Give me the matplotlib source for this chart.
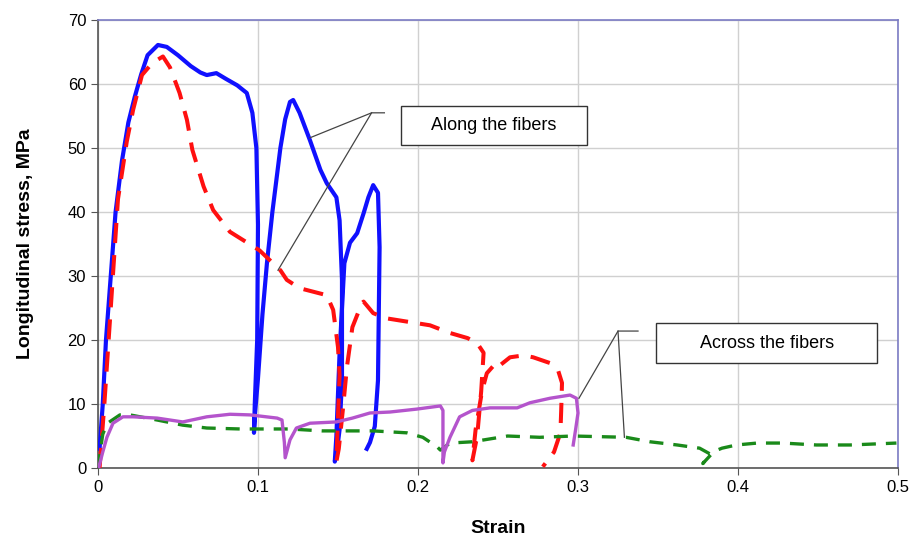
import matplotlib
matplotlib.use('Agg')
import matplotlib.pyplot as plt
from matplotlib.patches import Rectangle

plt.rcParams['font.family'] = ['Liberation Sans', 'DejaVu Sans']

# along the fibers, sample 1 (blue)
along1_x = [0.001, 0.003, 0.005, 0.008, 0.011, 0.015, 0.019, 0.023, 0.027, 0.031, 0.0375, 0.043,
            0.05, 0.058, 0.064, 0.068, 0.074, 0.08, 0.087, 0.093, 0.0965, 0.099, 0.1, 0.0995, 0.098,
            0.0975, 0.098, 0.1, 0.1028, 0.1056, 0.109, 0.114, 0.117, 0.12, 0.122, 0.126, 0.1325,
            0.139, 0.143, 0.149, 0.151, 0.1525, 0.1525, 0.151, 0.149, 0.148, 0.149, 0.151, 0.154,
            0.1575, 0.162, 0.166, 0.169, 0.172, 0.175, 0.176, 0.1755, 0.175, 0.173, 0.17, 0.168]
along1_y = [3, 10, 20, 30, 40, 48, 54, 58, 61.5, 64.5, 66.1, 65.8,
            64.5, 62.8, 61.8, 61.4, 61.7, 60.8, 59.8, 58.6, 55.5, 50, 38, 20, 10,
            5.5, 8, 14, 24, 32, 40, 50, 54.5, 57.2, 57.5, 55.5, 51.2,
            46.6, 44.5, 42.3, 38.7, 29.4, 13.7, 6, 2, 1, 5, 18, 32,
            35.2, 36.7, 39.8, 42.3, 44.2, 43, 34.5, 24.2, 13.7, 6.5, 4, 3]

# along the fibers, sample 2 (red dashed)
along2_x = [0.001, 0.004, 0.008, 0.0125, 0.018, 0.022, 0.0275, 0.034, 0.0406, 0.045, 0.051,
            0.0556, 0.059, 0.066, 0.072, 0.0825, 0.101, 0.114, 0.118, 0.126, 0.143, 0.147, 0.15,
            0.151, 0.15, 0.149, 0.1505, 0.153, 0.1556, 0.159, 0.165, 0.166, 0.172, 0.18, 0.195,
            0.2075, 0.22, 0.231, 0.237, 0.241, 0.2395, 0.237, 0.234, 0.236, 0.24, 0.243, 0.249,
            0.251, 0.2575, 0.266, 0.272, 0.2825, 0.2875, 0.29, 0.2895, 0.289, 0.285, 0.278]
along2_y = [0, 10, 25, 42, 51, 56, 61.4, 63.3, 64.3, 62.6, 58.6,
            54.4, 49.7, 44, 40.3, 36.9, 34, 30.9, 29.4, 28.1, 27, 24.7, 18.9,
            14.5, 8, 1, 3, 9, 15.8, 22, 25.8, 26, 24.2, 23.4, 22.8,
            22.3, 21.1, 20.3, 19.5, 18, 12, 5, 1.2, 6, 12, 14.8, 16.5,
            16, 17.3, 17.6, 17.3, 16.4, 15.3, 13.3, 9, 5.5, 2.5, 0.2]

# across the fibers, sample 1 (purple)
across1_x = [0.0006, 0.003, 0.0056, 0.0094, 0.0156, 0.022, 0.037, 0.053, 0.068, 0.0825, 0.095,
             0.112, 0.115, 0.1165, 0.117, 0.12, 0.124, 0.1325, 0.149, 0.159, 0.17, 0.1825, 0.199,
             0.214, 0.2156, 0.2156, 0.2165, 0.22, 0.226, 0.234, 0.245, 0.262, 0.27, 0.2825, 0.295,
             0.299, 0.3, 0.2985, 0.297]
across1_y = [0.2, 2.5, 4.8, 7, 8, 8, 7.8, 7.2, 8, 8.4, 8.3,
             7.8, 7.5, 4, 1.6, 4.4, 6.25, 7, 7.2, 7.8, 8.6, 8.75, 9.2,
             9.7, 9, 0.8, 2.5, 4.8, 8, 9, 9.4, 9.4, 10.2, 10.9, 11.4,
             10.9, 8.6, 6, 3.6]

# across the fibers, sample 2 (green dashed)
across2_x = [0.0, 0.003, 0.006, 0.0137, 0.02, 0.037, 0.053, 0.068, 0.089, 0.12, 0.14, 0.172,
             0.193, 0.203, 0.212, 0.214, 0.22, 0.234, 0.256, 0.276, 0.297, 0.33, 0.345, 0.362,
             0.376, 0.3825, 0.378, 0.385, 0.39, 0.399, 0.412, 0.428, 0.449, 0.47, 0.499]
across2_y = [0, 5.3, 7, 8.3, 8.3, 7.5, 6.7, 6.25, 6.1, 6.1, 5.8, 5.8,
             5.5, 4.8, 3.3, 2.8, 3.9, 4.1, 5, 4.8, 5, 4.8, 4.1, 3.6,
             3.1, 2.2, 0.7, 2.6, 3.1, 3.6, 3.9, 3.9, 3.6, 3.6, 3.9]

x_ticks = [0, 0.1, 0.2, 0.3, 0.4, 0.5]
y_ticks = [0, 10, 20, 30, 40, 50, 60, 70]

fig = plt.figure(figsize=(9.13, 5.41), dpi=100)
ax = fig.add_axes([0.1073, 0.1349, 0.8763, 0.8281])

ax.plot(along1_x, along1_y, color='#1010ff', lw=3.0, solid_joinstyle='round', zorder=3)
ax.plot(along2_x, along2_y, color='#ff1010', lw=2.9, dashes=(5, 3), zorder=4)
ax.plot(across2_x, across2_y, color='#1a8a1a', lw=2.4, dashes=(4.2, 3), zorder=4)
ax.plot(across1_x, across1_y, color='#b454cc', lw=2.4, zorder=5)

# callout boxes and leader lines
ax.add_patch(Rectangle((0.1894, 50.47), 0.1162, 6.09, facecolor='white', edgecolor='#333333', lw=1.0, zorder=6))
ax.text(0.2475, 53.5, 'Along the fibers', ha='center', va='center', fontsize=13, zorder=7)
ax.plot([0.179, 0.171, 0.1325], [55.5, 55.5, 51.6], color='#444444', lw=0.9, zorder=6)
ax.plot([0.171, 0.1125], [55.5, 30.9], color='#444444', lw=0.9, zorder=6)

ax.add_patch(Rectangle((0.349, 16.4), 0.138, 6.26, facecolor='white', edgecolor='#333333', lw=1.0, zorder=6))
ax.text(0.418, 19.5, 'Across the fibers', ha='center', va='center', fontsize=13, zorder=7)
ax.plot([0.3375, 0.325, 0.3006], [21.4, 21.4, 10.9], color='#444444', lw=0.9, zorder=6)
ax.plot([0.325, 0.329], [21.4, 4.8], color='#444444', lw=0.9, zorder=6)

ax.set_xlim(0, 0.5)
ax.set_ylim(0, 70)
ax.set_xticks(x_ticks)
ax.set_xticklabels(['0', '0.1', '0.2', '0.3', '0.4', '0.5'])
ax.set_yticks(y_ticks)
ax.tick_params(direction='out', length=5, labelsize=12, color='#555555')
ax.grid(True, color='#d0d0d0', lw=1.0)
ax.set_axisbelow(True)
for s in ['left', 'bottom']:
    ax.spines[s].set_color('#555555')
    ax.spines[s].set_linewidth(1.2)
for s in ['top', 'right']:
    ax.spines[s].set_color('#7b7bc4')
    ax.spines[s].set_linewidth(1.2)

ax.set_xlabel('Strain', fontsize=14, fontweight='bold', labelpad=18)
ax.set_ylabel('Longitudinal stress, MPa', fontsize=14, fontweight='bold', labelpad=24)

plt.savefig('out.png', dpi=100)
